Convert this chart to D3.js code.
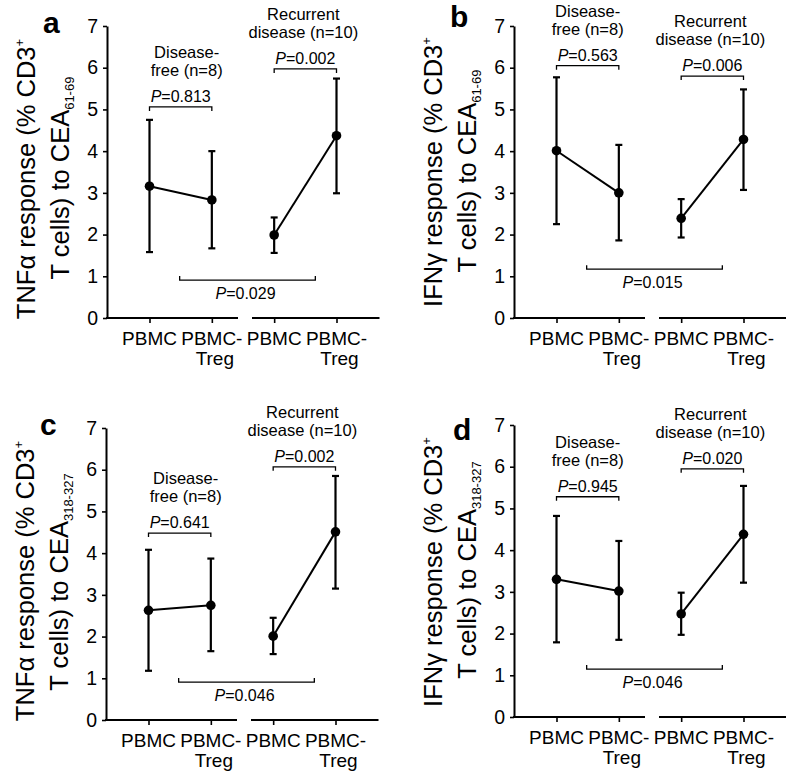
<!DOCTYPE html>
<html><head><meta charset="utf-8">
<script src="https://cdn.jsdelivr.net/npm/d3@7"></script>
<style>
body{margin:0;background:#fff}
svg{display:block}
text{font-family:"Liberation Sans",Arial,Helvetica,sans-serif;fill:#000}
</style>
</head><body>
<svg id="chart" width="786" height="777"></svg>
<script>
// ---------------- data ----------------
const categories = ["DF-PBMC", "DF-PBMC-Treg", "RD-PBMC", "RD-PBMC-Treg"];
const categoryLabels = [["PBMC"], ["PBMC-", "Treg"], ["PBMC"], ["PBMC-", "Treg"]];
const yTicks = [0, 1, 2, 3, 4, 5, 6, 7];
const panelLetters = ["a", "b", "c", "d"];
const cytokines = ["TNFα", "IFNγ", "TNFα", "IFNγ"];
const peptides = ["61-69", "61-69", "318-327", "318-327"];
const groupDF = ["Disease-", "free (n=8)"];
const groupRD = ["Recurrent", "disease (n=10)"];

// panel a: TNFα, CEA 61-69
const meanA = [3.16, 2.83, 1.99, 4.37];
const lowA  = [1.58, 1.67, 1.56, 2.99];
const highA = [4.75, 4.00, 2.41, 5.74];
// panel b: IFNγ, CEA 61-69
const meanB = [4.01, 3.00, 2.39, 4.28];
const lowB  = [2.25, 1.86, 1.93, 3.07];
const highB = [5.77, 4.15, 2.85, 5.48];
// panel c: TNFα, CEA 318-327
const meanC = [2.63, 2.75, 2.01, 4.51];
const lowC  = [1.18, 1.65, 1.58, 3.15];
const highC = [4.08, 3.87, 2.45, 5.85];
// panel d: IFNγ, CEA 318-327
const meanD = [3.30, 3.02, 2.47, 4.38];
const lowD  = [1.79, 1.85, 1.97, 3.22];
const highD = [4.82, 4.22, 2.98, 5.54];

const pDF      = ["0.813", "0.563", "0.641", "0.945"];
const pRD      = ["0.002", "0.006", "0.002", "0.020"];
const pBetween = ["0.029", "0.015", "0.046", "0.046"];
// bracket heights in data units
const bracketDF      = [5.06, 6.05, 4.48, 5.28];
const bracketRD      = [5.97, 5.80, 6.07, 5.95];
const bracketBetween = [0.91, 1.17, 0.91, 1.15];

const means = [meanA, meanB, meanC, meanD];
const lows  = [lowA, lowB, lowC, lowD];
const highs = [highA, highB, highC, highD];

// ---------------- layout ----------------
const layout = [
  {ax: 107, yTop: 26,  y0: 318, t1: 179, t2: 178, lx: 43,  ly: 33,  dfDx: 6},
  {ax: 514, yTop: 26,  y0: 318, t1: 172, t2: 171, lx: 450, ly: 27,  dfDx: 0},
  {ax: 106, yTop: 428, y0: 720, t1: 581, t2: 582, lx: 40,  ly: 435, dfDx: 6},
  {ax: 514, yTop: 425, y0: 717, t1: 572, t2: 570, lx: 453, ly: 440, dfDx: 0}
];

const svg = d3.select("#chart");

layout.forEach((L, i) => {
  const g = svg.append("g");
  const y = d3.scaleLinear().domain([0, 7]).range([L.y0, L.yTop]);
  const x = d3.scalePoint().domain(categories).range([L.ax + 42.5, L.ax + 229.5]);

  // y axis
  const ya = g.append("g").attr("transform", `translate(${L.ax},0)`)
    .call(d3.axisLeft(y).tickValues(yTicks).tickSizeInner(4).tickSizeOuter(0)
      .tickPadding(5).tickFormat(d3.format("d")));
  ya.select(".domain").attr("stroke-width", 2).attr("stroke", "#000");
  ya.selectAll(".tick line").attr("stroke-width", 1.6).attr("stroke", "#000");
  ya.selectAll(".tick text").attr("font-size", 19.5)
    .attr("font-family", '"Liberation Sans",Arial,sans-serif').attr("fill", "#000");

  // broken x axis
  const mid = (x(categories[1]) + x(categories[2])) / 2;
  const segs = [[L.ax - 1, mid - 5], [mid + 9, x(categories[3]) + 43]];
  g.selectAll(".xseg").data(segs).join("line")
    .attr("x1", d => d[0]).attr("x2", d => d[1])
    .attr("y1", L.y0).attr("y2", L.y0)
    .attr("stroke", "#000").attr("stroke-width", 2);
  const xa = g.append("g").attr("transform", `translate(0,${L.y0})`)
    .call(d3.axisBottom(x).tickSizeInner(5).tickSizeOuter(0).tickFormat(""));
  xa.select(".domain").remove();
  xa.selectAll(".tick line").attr("stroke", "#000").attr("stroke-width", 1.6);

  // x labels
  categories.forEach((c, k) => {
    const lines = categoryLabels[k];
    lines.forEach((t, j) => {
      g.append("text")
        .attr("x", x(c) + (j === 1 ? 3 : 0))
        .attr("y", L.y0 + 27 + j * 20)
        .attr("text-anchor", "middle")
        .attr("font-size", 19)
        .text(t);
    });
  });

  // y title (two lines, rotated)
  const t1 = g.append("text")
    .attr("transform", `translate(${L.ax - 72},${L.t1}) rotate(-90)`)
    .attr("text-anchor", "middle").attr("font-size", 25.5);
  t1.append("tspan").text(cytokines[i] + " response (% CD3");
  t1.append("tspan").attr("font-size", 13).attr("dy", -11).text("+");
  const t2 = g.append("text")
    .attr("transform", `translate(${L.ax - 38},${L.t2}) rotate(-90)`)
    .attr("text-anchor", "middle").attr("font-size", 25.5);
  t2.append("tspan").text("T cells) to CEA");
  t2.append("tspan").attr("font-size", 13).attr("dy", 5).text(peptides[i]);

  // panel letter
  g.append("text").attr("x", L.lx).attr("y", L.ly)
    .attr("font-size", 30).attr("font-weight", "bold").text(panelLetters[i]);

  // connecting lines
  const line = d3.line().x(d => x(d.c)).y(d => y(d.v));
  const pts = categories.map((c, k) => ({c, v: means[i][k], lo: lows[i][k], hi: highs[i][k]}));
  [pts.slice(0, 2), pts.slice(2, 4)].forEach(seg => {
    g.append("path").attr("d", line(seg)).attr("fill", "none")
      .attr("stroke", "#000").attr("stroke-width", 2);
  });

  // error bars
  const eb = g.selectAll(".eb").data(pts).join("g");
  eb.append("line").attr("x1", d => x(d.c)).attr("x2", d => x(d.c))
    .attr("y1", d => y(d.lo)).attr("y2", d => y(d.hi))
    .attr("stroke", "#000").attr("stroke-width", 2.2);
  ["lo", "hi"].forEach(key => {
    eb.append("line").attr("x1", d => x(d.c) - 3.5).attr("x2", d => x(d.c) + 3.5)
      .attr("y1", d => y(d[key])).attr("y2", d => y(d[key]))
      .attr("stroke", "#000").attr("stroke-width", 2.2);
  });
  eb.append("circle").attr("cx", d => x(d.c)).attr("cy", d => y(d.v))
    .attr("r", 4.8).attr("fill", "#000");

  // brackets
  function bracket(x1, x2, yb, dir) {
    const p = d3.path();
    p.moveTo(x1, yb + 4 * dir); p.lineTo(x1, yb); p.lineTo(x2, yb); p.lineTo(x2, yb + 4 * dir);
    g.append("path").attr("d", p.toString()).attr("fill", "none")
      .attr("stroke", "#000").attr("stroke-width", 1.3);
  }
  function pLabel(cx, by, val) {
    const t = g.append("text").attr("x", cx).attr("y", by)
      .attr("text-anchor", "middle").attr("font-size", 16);
    t.append("tspan").attr("font-style", "italic").text("P");
    t.append("tspan").text("=" + val);
  }
  // disease-free
  const dfx1 = x(categories[0]), dfx2 = x(categories[1]);
  const dfy = y(bracketDF[i]);
  bracket(dfx1, dfx2, dfy, 1);
  pLabel((dfx1 + dfx2) / 2, dfy - 5, pDF[i]);
  groupDF.forEach((t, j) => {
    g.append("text").attr("x", (dfx1 + dfx2) / 2 + L.dfDx).attr("y", dfy - 49 + j * 18)
      .attr("text-anchor", "middle").attr("font-size", 16.5).text(t);
  });
  // recurrent
  const rdx1 = x(categories[2]), rdx2 = x(categories[3]);
  const rdy = y(bracketRD[i]);
  bracket(rdx1, rdx2, rdy, 1);
  pLabel((rdx1 + rdx2) / 2, rdy - 5, pRD[i]);
  groupRD.forEach((t, j) => {
    g.append("text").attr("x", (rdx1 + rdx2) / 2 - 2).attr("y", rdy - 49 + j * 18)
      .attr("text-anchor", "middle").attr("font-size", 16.5).text(t);
  });
  // between groups
  const bx1 = (dfx1 + dfx2) / 2 - 1, bx2 = (rdx1 + rdx2) / 2 + 10;
  const by = y(bracketBetween[i]);
  bracket(bx1, bx2, by, -1);
  pLabel((bx1 + bx2) / 2 - 2, by + 19, pBetween[i]);
});
</script>
</body></html>
